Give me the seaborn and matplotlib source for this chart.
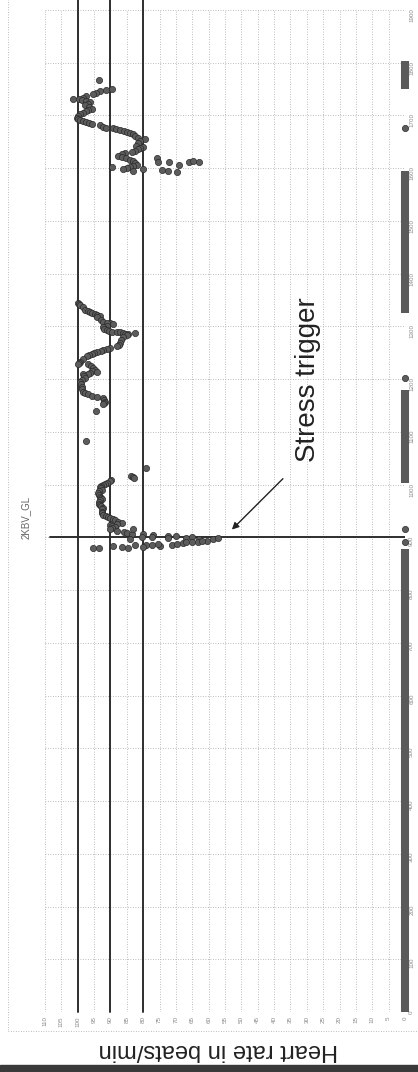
import matplotlib
matplotlib.use("Agg")
import matplotlib.pyplot as plt
from matplotlib.patches import Rectangle
import pandas as pd
import seaborn as sns

# heart rate samples (time in s, heart rate in bpm)
# last block
top_t = [1768, 1750, 1748, 1746, 1742, 1740, 1736, 1734, 1732, 1731, 1729,
         1727, 1725, 1722, 1719, 1716, 1713, 1710, 1708, 1705, 1702, 1699,
         1696, 1693, 1691, 1689, 1687, 1685, 1683, 1681, 1679, 1677, 1676,
         1674, 1672, 1670, 1668, 1666, 1664, 1661, 1658, 1655, 1651, 1647,
         1643, 1641, 1639, 1636, 1633, 1630, 1628, 1626, 1624, 1622, 1619,
         1616, 1613, 1609, 1607, 1604, 1603, 1602, 1600, 1598, 1598, 1594,
         1620, 1611, 1596, 1594, 1611, 1592, 1607, 1611, 1613, 1611]
top_hr = [93.6, 89.6, 91.5, 93.3, 94.5, 95.4, 97.6, 98.5, 99.7, 101.5, 98.8,
          97.5, 96.3, 97.0, 97.9, 96.5, 95.7, 96.8, 97.6, 98.5, 99.4, 99.8,
          100.3, 99.9, 99.4, 98.5, 97.6, 96.5, 95.7, 93.3, 92.3, 91.4, 89.3,
          88.3, 87.2, 86.0, 85.0, 84.0, 83.2, 82.5, 81.7, 79.5, 81.0, 81.5,
          82.3, 80.1, 81.0, 81.7, 82.5, 83.5, 85.6, 86.5, 87.8, 86.5, 85.3,
          84.0, 83.2, 82.5, 82.0, 83.0, 89.6, 84.1, 85.0, 86.2, 80.1, 83.2,
          75.8, 75.5, 74.3, 72.5, 72.2, 69.7, 69.1, 66.1, 64.8, 63.0]

# middle block
mid_t = [1345, 1343, 1341, 1336, 1332, 1330, 1328, 1325, 1323, 1321, 1319,
         1317, 1313, 1309, 1307, 1306, 1304, 1301, 1298, 1296, 1294, 1292,
         1290, 1290, 1289, 1288, 1287, 1286, 1285, 1283, 1279, 1274, 1269,
         1265, 1262, 1260, 1258, 1256, 1254, 1252, 1250, 1247, 1245, 1243,
         1238, 1233, 1231, 1228, 1228, 1225, 1222, 1218, 1216, 1214, 1212,
         1210, 1209, 1206, 1203, 1199, 1195, 1190, 1186, 1181, 1176, 1173,
         1171, 1169, 1167, 1165, 1161, 1157, 1155, 1152]
mid_hr = [100.0, 99.7, 99.4, 98.5, 97.9, 97.0, 96.3, 95.5, 94.8, 94.0, 93.3,
          94.2, 93.0, 92.4, 90.2, 91.0, 89.3, 91.0, 92.4, 92.0, 91.1, 90.5,
          89.6, 88.1, 87.0, 86.2, 82.6, 85.5, 84.7, 85.0, 86.2, 86.8, 87.2,
          87.5, 88.1, 90.2, 91.0, 92.4, 93.0, 94.2, 95.0, 95.7, 96.5, 97.2,
          98.5, 99.4, 99.7, 100.0, 96.9, 96.0, 95.4, 94.8, 95.5, 94.2, 96.3,
          97.0, 98.5, 98.2, 97.9, 98.8, 99.4, 99.1, 98.8, 98.6, 98.5, 97.7,
          96.9, 95.5, 94.2, 92.4, 92.0, 91.7, 92.0, 92.4]

# isolated readings between the blocks
lone_t = [1139, 1082, 1032, 1017, 1015, 1013]
lone_hr = [94.5, 97.6, 79.2, 83.8, 83.2, 82.9]

# first block around the trigger
first_t = [1008, 1006, 1004, 1002, 1000, 998, 996, 993, 990, 988, 985, 981,
           977, 975, 972, 970, 967, 964, 962, 959, 956, 953, 949, 946, 943,
           941, 939, 936, 934, 932, 930, 928, 926, 924, 922, 920, 918, 915,
           913, 911, 908, 906, 906, 904, 902, 902, 898, 901, 896, 894, 896,
           898, 915, 896, 901, 901, 899,
           880, 880, 884, 882, 880, 886, 886, 886, 884, 888, 886, 888, 890,
           892, 892, 892, 894, 882]
first_hr = [89.8, 90.2, 91.1, 91.8, 92.4, 92.8, 93.3, 93.0, 92.7, 93.5, 93.8,
            93.5, 93.3, 93.0, 92.7, 93.2, 93.6, 93.4, 93.3, 92.8, 92.4, 92.5,
            92.7, 92.5, 92.4, 91.5, 90.8, 90.0, 89.3, 88.5, 87.8, 86.5, 88.0,
            90.2, 89.5, 88.7, 89.5, 90.2, 88.0, 86.0, 85.0, 83.5, 80.0, 77.0,
            72.5, 70.0, 67.0, 65.0, 63.0, 60.6, 58.7, 57.0, 83.2, 84.1, 80.4,
            77.4, 72.5,
            95.4, 93.6, 89.3, 86.5, 84.7, 82.6, 79.2, 77.4, 74.9, 75.5, 71.3,
            69.7, 67.9, 67.0, 65.0, 63.3, 62.1, 80.1]

# stretches where the monitor logged 0 bpm (start, end in s)
zero_start = [0, 1004, 1326, 1750]
zero_end = [877, 1180, 1594, 1803]
zero_single = [892, 915, 1203, 1677]

ref_levels = [100, 90, 80]
trigger_time = 900
hr_ticks = list(range(0, 111, 5))
time_ticks = list(range(0, 1901, 100))

sns.set_style("white")
plt.rcParams['font.family'] = ['Liberation Sans', 'DejaVu Sans']

fig = plt.figure(figsize=(4.18, 10.72), dpi=100)
ax = fig.add_axes([45 / 418, 60 / 1072, 360 / 418, 1002 / 1072])

# zero readings drawn as dense bands on the 0 bpm line
for s, e in zip(zero_start, zero_end):
    ax.plot([0, 0], [s, e], color='#5a5a5a', lw=5.8, solid_capstyle='butt',
            clip_on=False, zorder=3)

df = pd.DataFrame({
    'time': top_t + mid_t + lone_t + first_t + zero_single,
    'hr': top_hr + mid_hr + lone_hr + first_hr + [0] * len(zero_single),
})
sns.scatterplot(data=df, x='hr', y='time', s=20, color='#5c5c5c',
                edgecolor='#2a2a2a', linewidth=0.5, ax=ax, clip_on=False,
                zorder=4)

for v in ref_levels:
    ax.axvline(v, ymin=0, ymax=1.01, color='#2e2e2e', lw=1.4, clip_on=False,
               zorder=2)
ax.axhline(trigger_time, xmin=0.015, xmax=1, color='#2e2e2e', lw=1.4, zorder=2)

ax.set_xticks(hr_ticks)
ax.set_yticks(time_ticks)
ax.set_xlim(110, 0)
ax.set_ylim(0, 1900)
ax.grid(True, ls=(0, (1, 2)), color='#a8a8a8', lw=0.6)
for sp in ax.spines.values():
    sp.set_visible(False)
ax.yaxis.tick_right()
ax.tick_params(axis='x', labelrotation=90, labelsize=4.5, labelcolor='#888888',
               length=0, pad=3)
ax.tick_params(axis='y', labelrotation=90, labelsize=4.5, labelcolor='#888888',
               length=0, pad=3)
ax.set_xlabel('')
ax.set_ylabel('')

# annotation
ax.annotate('', xy=(53.5, 911), xytext=(36.7, 1015),
            arrowprops=dict(arrowstyle='-|>', color='#222222', lw=1,
                            mutation_scale=10))
ax.text(29.7, 1199, 'Stress trigger', rotation=90, ha='center', va='center',
        fontsize=20, color='#222222')

fig.text(26 / 418, 1 - 517 / 1072, '2KBV_GL', rotation=90, ha='center',
         va='center', fontsize=7, color='#666666')
fig.text(218 / 418, 1 - 1050 / 1072, 'Heart rate in beats/min', rotation=180,
         ha='center', va='center', fontsize=17, color='#222222')

fig.add_artist(Rectangle((8 / 418, 1 - 1031 / 1072), 1.2, 1.2,
                         transform=fig.transFigure, fill=False,
                         ls=(0, (1, 2)), ec='#a8a8a8', lw=0.6))
fig.add_artist(Rectangle((0, 0), 1, 7 / 1072, transform=fig.transFigure,
                         color='#3a3a3a'))

fig.savefig('out.png', dpi=100)
